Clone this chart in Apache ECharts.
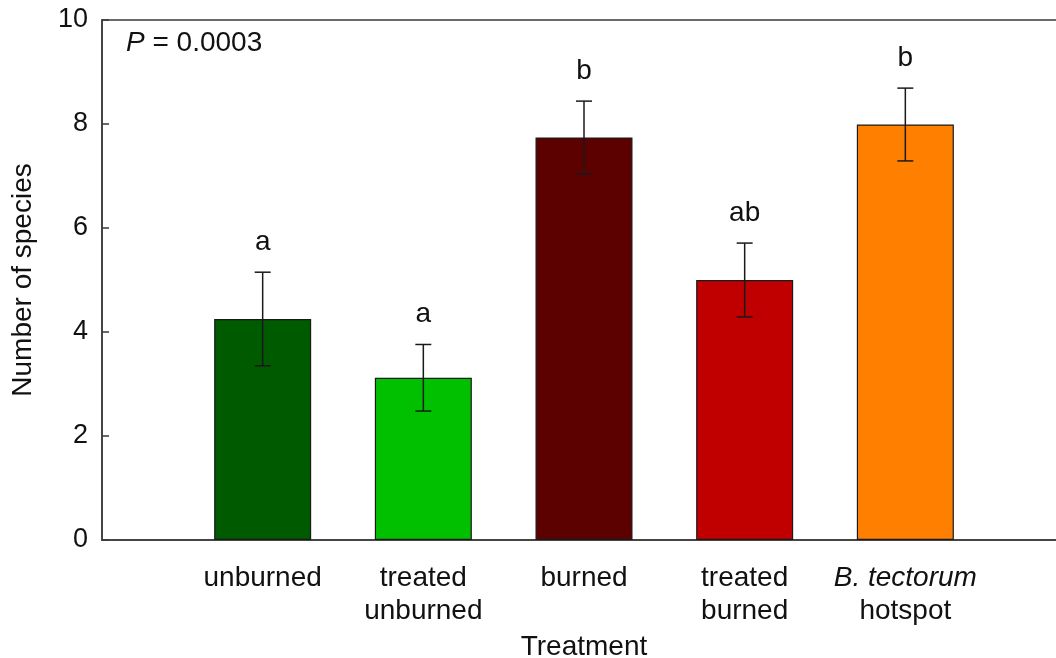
<!DOCTYPE html>
<html>
<head>
<meta charset="utf-8">
<script src="https://cdn.jsdelivr.net/npm/echarts@6/dist/echarts.min.js"></script>
<style>html,body{margin:0;padding:0;background:#fff}#c{width:1056px;height:658px}</style>
</head>
<body>
<div id="c"></div>
<script>
var categories = ['unburned', 'treated\nunburned', 'burned', 'treated\nburned', 'B. tectorum\nhotspot'];
var means = [4.25, 3.12, 7.74, 5.0, 7.99];
var errors = [0.9, 0.64, 0.7, 0.71, 0.7];
var letters = ['a', 'a', 'b', 'ab', 'b'];
var colors = ['#005A00', '#00C000', '#5C0000', '#C00000', '#FF8000'];
var yTicks = [0, 2, 4, 6, 8, 10];

var FONT = 'Liberation Sans, Arial, sans-serif';
var FS = 28;
var chart = echarts.init(document.getElementById('c'));

var barData = means.map(function (m, i) {
  return { value: [i + 1, m], itemStyle: { color: colors[i] } };
});
var errData = means.map(function (m, i) {
  return [i + 1, m - errors[i], m + errors[i], i];
});

chart.setOption({
  animation: false,
  backgroundColor: '#fff',
  grid: { left: 102, top: 20, width: 964, height: 520, outerBoundsMode: 'none', containLabel: false, show: true, borderColor: '#3a3a3a', borderWidth: 1.5, backgroundColor: 'transparent' },
  xAxis: {
    type: 'value', min: 0, max: 6, interval: 1,
    name: 'Treatment', nameLocation: 'middle', nameGap: 89,
    nameTextStyle: { fontFamily: FONT, fontSize: FS, color: '#111' },
    axisLine: { show: true, lineStyle: { color: '#3a3a3a', width: 1.5 } },
    axisTick: { show: false },
    splitLine: { show: false },
    axisLabel: {
      margin: 22, fontFamily: FONT, fontSize: FS, color: '#111', lineHeight: 33,
      formatter: function (v) {
        var s = categories[v - 1];
        if (!s) return '';
        return s.replace('B. tectorum', '{i|B. tectorum}');
      },
      rich: { i: { fontStyle: 'italic', fontFamily: FONT, fontSize: FS, color: '#111', lineHeight: 33 } }
    }
  },
  yAxis: {
    type: 'value', min: 0, max: 10, interval: 2,
    name: 'Number of species', nameLocation: 'middle', nameGap: 65,
    nameTextStyle: { fontFamily: FONT, fontSize: FS, color: '#111' },
    axisLine: { show: true, lineStyle: { color: '#3a3a3a', width: 1.5 } },
    axisTick: { show: true, inside: true, length: 7, lineStyle: { color: '#3a3a3a', width: 1.5 } },
    splitLine: { show: false },
    axisLabel: {
      margin: 14, fontFamily: FONT, fontSize: 27, color: '#111',
      formatter: function (v) { return yTicks.indexOf(v) >= 0 ? String(v) : ''; }
    }
  },
  graphic: [{
    type: 'text', left: 126, top: 29,
    style: {
      text: '{i|P} = 0.0003', fontFamily: FONT, fontSize: FS, fill: '#111',
      rich: { i: { fontStyle: 'italic', fontFamily: FONT, fontSize: FS, color: '#111' } }
    }
  }],
  series: [{
    type: 'bar', barWidth: 97, data: barData,
    itemStyle: { borderColor: '#1a1a1a', borderWidth: 1.2 }
  }, {
    type: 'custom', data: errData, z: 10,
    renderItem: function (params, api) {
      var x = api.value(0);
      var lo = api.coord([x, api.value(1)]);
      var hi = api.coord([x, api.value(2)]);
      var idx = api.value(3);
      var cap = 8;
      var st = { stroke: '#1a1a1a', lineWidth: 1.5 };
      return {
        type: 'group',
        children: [
          { type: 'line', shape: { x1: hi[0], y1: hi[1], x2: lo[0], y2: lo[1] }, style: st },
          { type: 'line', shape: { x1: hi[0] - cap, y1: hi[1], x2: hi[0] + cap, y2: hi[1] }, style: st },
          { type: 'line', shape: { x1: lo[0] - cap, y1: lo[1], x2: lo[0] + cap, y2: lo[1] }, style: st },
          { type: 'text', x: hi[0], y: hi[1] - 30, style: { text: letters[idx], fontFamily: FONT, fontSize: FS, fill: '#111', align: 'center', verticalAlign: 'middle' } }
        ]
      };
    }
  }]
});
</script>
</body>
</html>
